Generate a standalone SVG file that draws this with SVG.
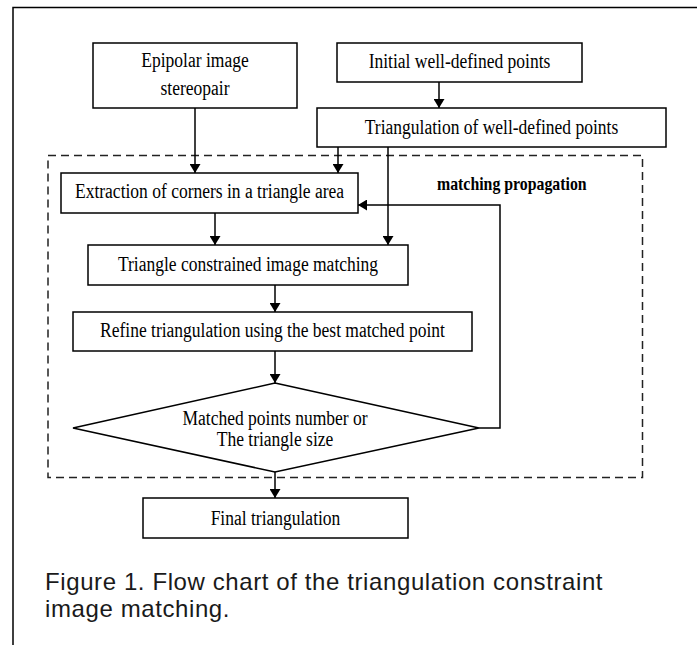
<svg xmlns="http://www.w3.org/2000/svg" width="697" height="645" viewBox="0 0 697 645">
<style>
.box{fill:#fff;stroke:#000;stroke-width:1.5}
.t{font-family:"Liberation Serif","Times New Roman",serif;font-size:20px;fill:#000;text-anchor:middle}
.b{font-family:"Liberation Serif","Times New Roman",serif;font-size:18px;font-weight:bold;fill:#000}
.c{fill:none;stroke:#000;stroke-width:1.5}
.cap{font-family:"Liberation Sans",Arial,sans-serif;font-size:24px;fill:#1a1a1a;letter-spacing:0.6px}
</style>
<defs>
<marker id="ah" viewBox="0 0 10 10" refX="10" refY="5" markerWidth="9" markerHeight="11" markerUnits="userSpaceOnUse" orient="auto" preserveAspectRatio="none">
<path d="M0,0 L10,5 L0,10 z" fill="#000"/>
</marker>
</defs>
<rect width="697" height="645" fill="#fff"/>
<path d="M13,645 V7.5 H697" fill="none" stroke="#000" stroke-width="1.5"/>
<rect id="region" x="48" y="155.5" width="594.5" height="322" fill="none" stroke="#222" stroke-width="1.5" stroke-dasharray="8,5"/>
<text class="b" transform="matrix(0.88,0,0,1,437,190)">matching propagation</text>
<g id="connectors">
<path class="c" d="M195,108 V173" marker-end="url(#ah)"/>
<path class="c" d="M439,82 V108" marker-end="url(#ah)"/>
<path class="c" d="M338,147 V173" marker-end="url(#ah)"/>
<path class="c" d="M388,147 V245" marker-end="url(#ah)"/>
<path class="c" d="M215,213 V245" marker-end="url(#ah)"/>
<path class="c" d="M275,285 V312" marker-end="url(#ah)"/>
<path class="c" d="M275,351 V383" marker-end="url(#ah)"/>
<path class="c" d="M275,472 V498" marker-end="url(#ah)"/>
<path class="c" d="M479,428 H500 V205 H358" marker-end="url(#ah)"/>
</g>
<g id="epipolar">
<rect class="box" x="93" y="43" width="204" height="65"/>
<text class="t" transform="matrix(0.875,0,0,1,195,67)">Epipolar image</text>
<text class="t" transform="matrix(0.875,0,0,1,195,95)">stereopair</text>
</g>
<g id="initial">
<rect class="box" x="337" y="43" width="245" height="39"/>
<text class="t" transform="matrix(0.875,0,0,1,459.5,68)">Initial well-defined points</text>
</g>
<g id="triangulation">
<rect class="box" x="317" y="108" width="349" height="39"/>
<text class="t" transform="matrix(0.875,0,0,1,491.5,134)">Triangulation of well-defined points</text>
</g>
<g id="extraction">
<rect class="box" x="61" y="173" width="297" height="40"/>
<text class="t" transform="matrix(0.875,0,0,1,209.5,198)">Extraction of corners in a triangle area</text>
</g>
<g id="constrained">
<rect class="box" x="88" y="245" width="320" height="40"/>
<text class="t" transform="matrix(0.875,0,0,1,248,271)">Triangle constrained image matching</text>
</g>
<g id="refine">
<rect class="box" x="73" y="312" width="399" height="39"/>
<text class="t" transform="matrix(0.875,0,0,1,272.5,337)">Refine triangulation using the best matched point</text>
</g>
<g id="decision">
<path class="box" d="M275,383 L479,428 L275,472 L73,428 Z"/>
<text class="t" transform="matrix(0.875,0,0,1,275,425)">Matched points number or</text>
<text class="t" transform="matrix(0.875,0,0,1,275,446)">The triangle size</text>
</g>
<g id="final">
<rect class="box" x="143" y="498" width="265" height="40"/>
<text class="t" transform="matrix(0.875,0,0,1,275.5,525)">Final triangulation</text>
</g>
<text class="cap" x="45" y="590">Figure 1. Flow chart of the triangulation constraint</text>
<text class="cap" x="45" y="617">image matching.</text>
</svg>
